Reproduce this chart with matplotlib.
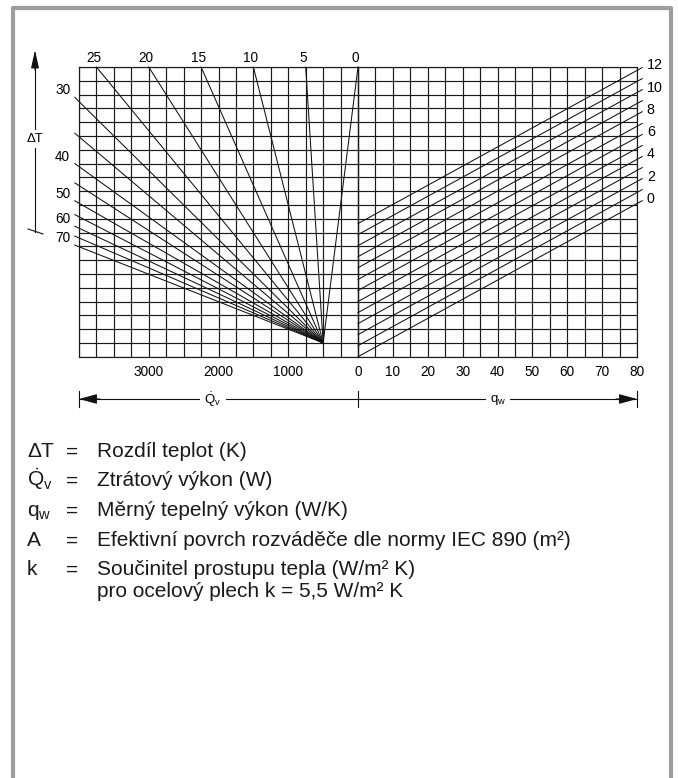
import matplotlib
matplotlib.use("Agg")
import matplotlib.pyplot as plt
import numpy as np

plt.rcParams['font.family'] = ['Liberation Sans', 'DejaVu Sans']
plt.rcParams['mathtext.fontset'] = 'custom'
plt.rcParams['mathtext.rm'] = 'Liberation Sans'
plt.rcParams['mathtext.it'] = 'Liberation Sans'

# --- nomogram data ---
QV_MAX = 4000          # left half, Qv in W (axis runs right -> left)
QV_STEP = 250
QW_MAX = 80            # right half, qw in W/K
QW_STEP = 5
N_ROWS = 21            # common vertical scale, grid rows
FAN_QV, FAN_ROW = 500, 1   # point where all dT lines meet

# dT lines ending on the top edge (Qv where they hit the top)
DT_TOP = [0, 5, 10, 15, 20, 25]
DT_TOP_QV = [0, 750, 1500, 2250, 3000, 3750]
# dT lines ending just outside the left edge (row where they stop)
DT_SIDE = [30, 35, 40, 45, 50, 55, 60, 65, 70]
DT_SIDE_ROW = [18.8, 16.2, 14.0, 12.6, 11.3, 10.3, 9.46, 8.74, 8.09]
DT_SIDE_QV = 4060
DT_SIDE_LABELS = [30, 40, 50, 60, 70]

# right-hand family (0..12), start row at qw=0 and row at the right end
A_VALUES = list(range(13))
A_START_ROW = [0.0, 0.8, 1.6, 2.4, 3.2, 4.0, 4.8, 5.6, 6.45, 7.25, 8.05, 8.85, 9.65]
A_END_ROW = [11.31, 12.11, 12.91, 13.71, 14.51, 15.31, 16.11, 16.91,
             17.76, 18.56, 19.36, 20.16, 20.96]
A_END_QW = 81.5
A_LABELS = [0, 2, 4, 6, 8, 10, 12]

QV_TICKS = [1000, 2000, 3000]
QW_TICKS = [0, 10, 20, 30, 40, 50, 60, 70, 80]

LEGEND_SYMBOLS = ['ΔT', r'$\dot{\mathrm{Q}}_{\mathrm{v}}$', r'$\mathrm{q}_{\mathrm{w}}$', 'A', 'k', '']
LEGEND_TEXT = [
    'Rozdíl teplot (K)',
    'Ztrátový výkon (W)',
    'Měrný tepelný výkon (W/K)',
    'Efektivní povrch rozváděče dle normy IEC 890 (m²)',
    'Součinitel prostupu tepla (W/m² K)',
    'pro ocelový plech k = 5,5 W/m² K',
]

W, H = 678, 778
GRID_C = '#1a1a1a'
LINE_C = '#111111'
TEXT_C = '#1a1a1a'
NUM_FS = 9.8
LEG_FS = 15


def px_box(x0, y0, x1, y1):
    """pixel box (top-left origin) -> figure fraction rect"""
    return [x0 / W, 1 - y1 / H, (x1 - x0) / W, (y1 - y0) / H]


fig = plt.figure(figsize=(W / 100, H / 100), dpi=100)

# overlay in pixel units for frame, arrows and legend
ov = fig.add_axes([0, 0, 1, 1], zorder=0)
ov.set_xlim(0, W)
ov.set_ylim(H, 0)
ov.axis('off')

axl = fig.add_axes(px_box(79, 67, 358, 356.7), zorder=2)
axr = fig.add_axes(px_box(358, 67, 637, 356.7), zorder=2)
for ax in (axl, axr):
    ax.patch.set_alpha(0)
    ax.set_ylim(0, N_ROWS)
    ax.set_yticks(np.arange(0, N_ROWS + 1))
    ax.set_yticklabels([])
    ax.tick_params(length=0, labelsize=NUM_FS, pad=6)
    ax.grid(True, which='both', color=GRID_C, lw=0.85)
    for sp in ax.spines.values():
        sp.set_color(GRID_C)
        sp.set_linewidth(0.85)

axl.set_xlim(QV_MAX, 0)
axl.set_xticks(np.arange(0, QV_MAX + 1, QV_STEP), minor=True)
axl.set_xticks(QV_TICKS)
axl.tick_params(which='minor', length=0)
axr.set_xlim(0, QW_MAX)
axr.set_xticks(np.arange(0, QW_MAX + 1, QW_STEP), minor=True)
axr.set_xticks(QW_TICKS)
axr.tick_params(which='minor', length=0)

# dT fan
for dt, qv in zip(DT_TOP, DT_TOP_QV):
    axl.plot([FAN_QV, qv], [FAN_ROW, N_ROWS], color=LINE_C, lw=0.75, clip_on=False)
    axl.text(qv + 40, N_ROWS + 0.63, str(dt), ha='center', va='center', fontsize=NUM_FS)
for dt, row in zip(DT_SIDE, DT_SIDE_ROW):
    axl.plot([FAN_QV, DT_SIDE_QV], [FAN_ROW, row], color=LINE_C, lw=0.75, clip_on=False)
    if dt in DT_SIDE_LABELS:
        axl.text(4126, row + 0.5, str(dt), ha='right', va='center', fontsize=NUM_FS)

# right family
for a, r0, r1 in zip(A_VALUES, A_START_ROW, A_END_ROW):
    axr.plot([0, A_END_QW], [r0, r1], color=LINE_C, lw=0.75, clip_on=False)
    if a in A_LABELS:
        axr.text(82.8, r1 + 0.15, str(a), ha='left', va='center', fontsize=NUM_FS + 0.5)

# outer grey frame
ov.plot([13, 13, 671, 671], [H + 10, 8, 8, H + 10], color='#9d9d9d', lw=3, clip_on=False)

# dT axis arrow
ov.plot([35, 35], [232, 64], color=LINE_C, lw=0.8)
ov.annotate('', xy=(35, 50), xytext=(35, 70),
            arrowprops=dict(arrowstyle='-|>,head_length=1.1,head_width=0.24',
                            color=LINE_C, lw=0.8, shrinkA=0, shrinkB=0))
ov.plot([28, 43], [229, 234], color=LINE_C, lw=0.8)
ov.text(35, 139, 'ΔT', ha='center', va='center', fontsize=9.5,
        bbox=dict(facecolor='white', edgecolor='none', pad=2))

# Qv / qw arrow under the grid
ARROW_Y = 399
ov.plot([79, 637], [ARROW_Y, ARROW_Y], color=LINE_C, lw=0.8)
for xb in (79, 358, 637):
    ov.plot([xb, xb], [391, 407], color=LINE_C, lw=0.8)
ov.annotate('', xy=(79, ARROW_Y), xytext=(100, ARROW_Y),
            arrowprops=dict(arrowstyle='-|>,head_length=1.1,head_width=0.3',
                            color=LINE_C, lw=0.8, shrinkA=0, shrinkB=0))
ov.annotate('', xy=(637, ARROW_Y), xytext=(616, ARROW_Y),
            arrowprops=dict(arrowstyle='-|>,head_length=1.1,head_width=0.3',
                            color=LINE_C, lw=0.8, shrinkA=0, shrinkB=0))
ov.text(213, ARROW_Y + 4.5, r'$\dot{\mathrm{Q}}_{\mathrm{v}}$', ha='center', va='baseline',
        fontsize=9.5, bbox=dict(facecolor='white', edgecolor='none', pad=3))
ov.text(498, ARROW_Y + 3, r'$\mathrm{q}_{\mathrm{w}}$', ha='center', va='baseline',
        fontsize=9.5, bbox=dict(facecolor='white', edgecolor='none', pad=3))

# legend block (baseline sits half a cap height below the row centre)
LEG_Y = [450, 479, 509, 539, 568, 590]
BASE_OFF = 7.4
for sym, txt, y in zip(LEGEND_SYMBOLS, LEGEND_TEXT, LEG_Y):
    if sym:
        ov.text(27, y + BASE_OFF, sym, ha='left', va='baseline', fontsize=LEG_FS, color=TEXT_C)
        ov.text(72, y + BASE_OFF, '=', ha='center', va='baseline', fontsize=LEG_FS, color=TEXT_C)
    ov.text(97, y + BASE_OFF, txt, ha='left', va='baseline', fontsize=LEG_FS, color=TEXT_C)

fig.savefig('out.png', dpi=100)
